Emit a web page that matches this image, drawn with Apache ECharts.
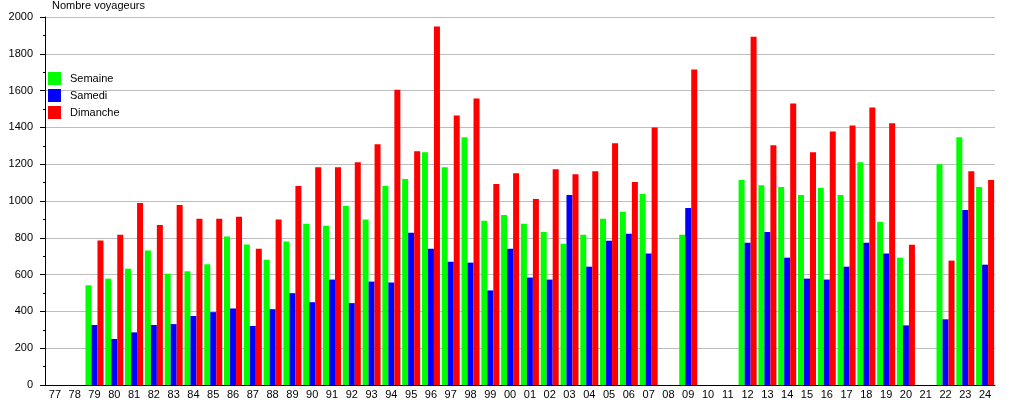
<!DOCTYPE html>
<html>
<head>
<meta charset="utf-8">
<script src="https://cdn.jsdelivr.net/npm/echarts@6/dist/echarts.min.js"></script>
<style>
html,body{margin:0;padding:0;background:#fff;}
#chart{width:1015px;height:400px;}
</style>
</head>
<body>
<div id="chart"></div>
<script>
const categories = ['77','78','79','80','81','82','83','84','85','86','87','88','89','90','91','92','93','94','95','96','97','98','99','00','01','02','03','04','05','06','07','08','09','10','11','12','13','14','15','16','17','18','19','20','21','22','23','24'];
const semaine = [null,null,542,578,632,731,605,618,656,807,764,681,780,876,865,973,899,1081,1119,1265,1184,1346,892,924,876,832,768,816,903,941,1038,null,816,null,null,1114,1086,1076,1032,1070,1032,1211,886,692,null,1200,1346,1076];
const samedi = [null,null,326,250,286,326,331,375,396,416,321,412,499,450,573,445,562,557,827,741,670,665,514,741,584,573,1032,643,784,822,714,null,962,null,null,773,832,692,578,573,643,773,714,324,null,357,951,654];
const dimanche = [null,null,785,816,989,870,978,903,903,915,741,899,1081,1184,1184,1211,1308,1605,1270,1948,1465,1557,1092,1151,1011,1173,1146,1162,1314,1103,1400,null,1714,null,null,1892,1303,1530,1265,1378,1411,1508,1422,762,null,676,1162,1114];
const seriesNames = ['Semaine','Samedi','Dimanche'];
const colors = ['#00ff00','#0000ff','#ff0000'];

const chart = echarts.init(document.getElementById('chart'));
const font = 'Liberation Sans, Arial, sans-serif';
chart.setOption({
  animation: false,
  backgroundColor: '#ffffff',
  textStyle: {fontFamily: font},
  grid: {left: 45, right: 20, top: 17, bottom: 13, containLabel: false},
  legend: {
    orient: 'vertical', left: 43, top: 67, icon: 'rect',
    itemWidth: 13, itemHeight: 13, itemGap: 4,
    textStyle: {fontFamily: font, fontSize: 11, color: '#000', padding: [0,0,0,4]},
    data: seriesNames
  },
  xAxis: {
    type: 'category', data: categories,
    axisLine: {lineStyle: {color: '#000', width: 1}},
    axisTick: {show: false},
    axisLabel: {color: '#000', fontSize: 11, fontFamily: font, margin: 4, interval: 0}
  },
  yAxis: {
    type: 'value', min: 0, max: 2000, interval: 200,
    name: 'Nombre voyageurs', nameLocation: 'end', nameGap: 6,
    nameTextStyle: {color: '#000', fontSize: 11, fontFamily: font, align: 'left', padding: [0,0,0,7]},
    axisLine: {show: true, lineStyle: {color: '#000', width: 1}},
    axisTick: {show: true, inside: false, length: 5, lineStyle: {color: '#000'}},
    minorTick: {show: true, splitNumber: 2, length: 2, lineStyle: {color: '#000'}},
    axisLabel: {color: '#000', fontSize: 11, fontFamily: font, margin: 12, formatter: v => String(v)},
    splitLine: {show: true, lineStyle: {color: '#bdbdbd', width: 1}}
  },
  series: [semaine, samedi, dimanche].map((d, i) => ({
    name: seriesNames[i], type: 'bar', data: d,
    itemStyle: {color: colors[i]},
    barGap: '0%', barCategoryGap: '9%'
  }))
});
</script>
</body>
</html>
